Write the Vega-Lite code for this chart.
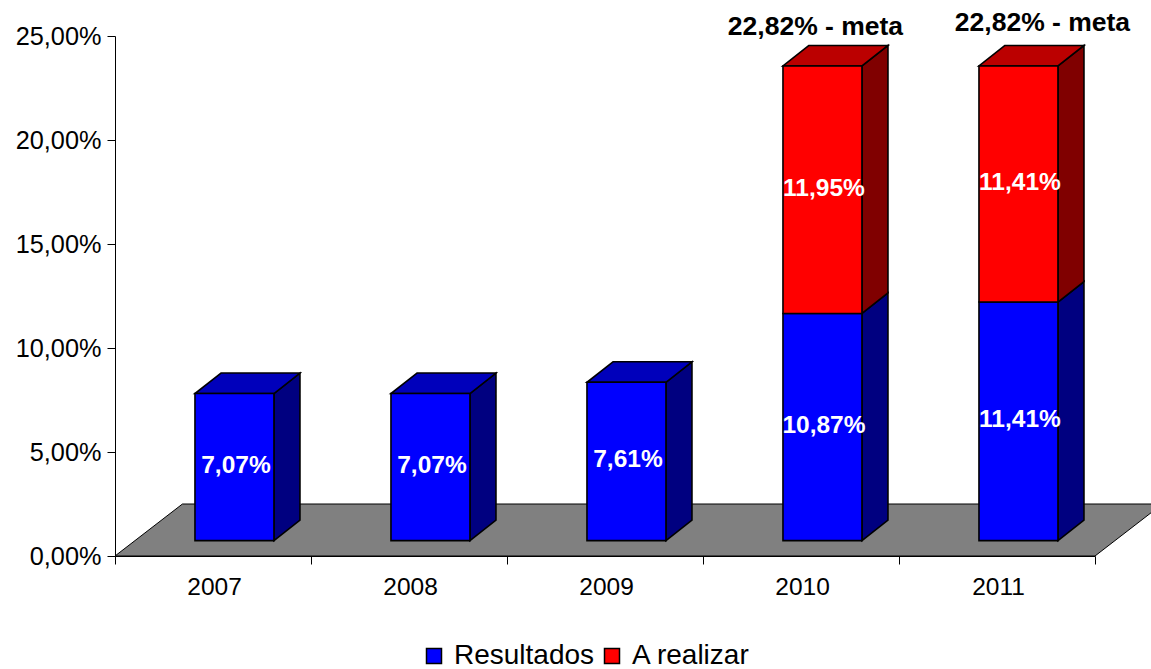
{
"$schema":"https://vega.github.io/schema/vega-lite/v6.json",
"width":980,"height":520,
"autosize":"none",
"padding":{"left":115,"top":36,"right":56,"bottom":113},
"background":"white",
"config":{"font":"Liberation Sans","view":{"stroke":null}},
"data":{"values":[
{"year":2007,"series":"Resultados","value":7.07,"label":"7,07%"},
{"year":2008,"series":"Resultados","value":7.07,"label":"7,07%"},
{"year":2009,"series":"Resultados","value":7.61,"label":"7,61%"},
{"year":2010,"series":"Resultados","value":10.92,"label":"10,87%"},
{"year":2011,"series":"Resultados","value":11.47,"label":"11,41%"},
{"year":2010,"series":"A realizar","value":11.9,"label":"11,95%"},
{"year":2011,"series":"A realizar","value":11.35,"label":"11,41%"}
]},
"transform":[
{"stack":"value","groupby":["year"],"sort":[{"field":"series","order":"descending"}],"as":["s0","s1"]},
{"calculate":"datum.year-2007+0.408","as":"xl"},
{"calculate":"datum.year-2007+0.811","as":"xr"},
{"calculate":"datum.year-2007+0.6095","as":"xc"},
{"calculate":"datum.s0+0.74","as":"lo"},
{"calculate":"datum.s1+0.74","as":"hi"},
{"calculate":"(datum.lo+datum.hi)/2","as":"mid"},
{"calculate":"datum.year+datum.series","as":"key"}
],
"layer":[
{"data":{"values":[{"plane":"floor"}]},
 "transform":[{"calculate":"[0,1]","as":"t"},{"flatten":["t"]},
  {"calculate":"datum.t*0.344","as":"fx"},{"calculate":"5+datum.t*0.344","as":"fx2"},{"calculate":"datum.t*2.5","as":"fy"}],
 "mark":{"type":"area","orient":"horizontal","fill":"#808080","stroke":"black","strokeWidth":1,"clip":false},
 "encoding":{
  "x":{"field":"fx","type":"quantitative","scale":{"domain":[0,5],"nice":false,"zero":false},
   "axis":{"title":null,"values":[0,1,2,3,4,5],"labelOffset":99,"tickSize":8,"labelPadding":11,"labelFontSize":24.5,"labelColor":"black","domainColor":"black","tickColor":"black","grid":false,"labelFlush":false,"labelOverlap":false,"labelExpr":"datum.value<5?''+(2007+datum.value):''"}},
  "x2":{"field":"fx2"},
  "y":{"field":"fy","type":"quantitative","scale":{"domain":[0,25],"nice":false,"zero":false},
   "axis":{"title":null,"values":[0,5,10,15,20,25],"tickSize":8,"labelPadding":6,"labelFontSize":25.3,"labelColor":"black","domainColor":"black","tickColor":"black","grid":false,"labelFlush":false,"labelOverlap":false,"labelExpr":"replace(format(datum.value,'.2f'),'.',',')+'%'"}}
 }},
{"transform":[{"calculate":"[0,1]","as":"t"},{"flatten":["t"]},
  {"calculate":"datum.xr+datum.t*0.1327","as":"sx"},{"calculate":"datum.lo+datum.t*0.986","as":"sy"},{"calculate":"datum.hi+datum.t*0.986","as":"sy2"}],
 "mark":{"type":"area","stroke":"black","strokeWidth":1.6},
 "encoding":{
  "x":{"field":"sx","type":"quantitative"},
  "y":{"field":"sy","type":"quantitative","stack":null},
  "y2":{"field":"sy2"},
  "detail":{"field":"key"},
  "fill":{"condition":{"test":"datum.series==='A realizar'","value":"#800000"},"value":"#000080"}
 }},
{"transform":[{"filter":"datum.year<2010||datum.series==='A realizar'"},{"calculate":"[0,1]","as":"t"},{"flatten":["t"]},
  {"calculate":"datum.xl+datum.t*0.1327","as":"tx"},{"calculate":"datum.xr+datum.t*0.1327","as":"tx2"},{"calculate":"datum.hi+datum.t*0.986","as":"ty"}],
 "mark":{"type":"area","orient":"horizontal","stroke":"black","strokeWidth":1.6},
 "encoding":{
  "x":{"field":"tx","type":"quantitative"},
  "x2":{"field":"tx2"},
  "y":{"field":"ty","type":"quantitative"},
  "detail":{"field":"key"},
  "fill":{"condition":{"test":"datum.series==='A realizar'","value":"#BB0000"},"value":"#0000BB"}
 }},
{"mark":{"type":"rect","stroke":"black","strokeWidth":1.6},
 "encoding":{
  "x":{"field":"xl","type":"quantitative"},
  "x2":{"field":"xr"},
  "y":{"field":"lo","type":"quantitative"},
  "y2":{"field":"hi"},
  "fill":{"field":"series","type":"nominal","scale":{"domain":["Resultados","A realizar"],"range":["#0000FF","#FF0000"]},
   "legend":{"title":null,"orient":"none","legendX":305,"legendY":606,"direction":"horizontal","symbolType":"square","symbolSize":225,"symbolStrokeColor":"black","symbolStrokeWidth":1.5,"labelFontSize":28,"labelColor":"black","labelOffset":6,"columnPadding":3,"padding":0,"labelLimit":400,
    "encode":{"symbols":{"update":{"stroke":{"value":"black"},"strokeWidth":{"value":1.5}}}}}}
 }},
{"mark":{"type":"text","fontWeight":"bold","fontSize":24.5,"color":"white","baseline":"middle","align":"center","dx":1.5,"dy":-1},
 "encoding":{
  "x":{"field":"xc","type":"quantitative"},
  "y":{"field":"mid","type":"quantitative"},
  "text":{"field":"label"}
 }},
{"data":{"values":[
 {"year":2010,"total":22.82,"label":"22,82% - meta"},
 {"year":2011,"total":22.82,"label":"22,82% - meta"}]},
 "transform":[{"filter":"datum.year==2010"},{"calculate":"datum.year-2007+0.6095","as":"xc"},{"calculate":"datum.total+0.74","as":"ty"}],
 "mark":{"type":"text","fontWeight":"bold","fontSize":26.5,"color":"black","baseline":"middle","align":"center","dx":-7,"dy":-39},
 "encoding":{"x":{"field":"xc","type":"quantitative"},"y":{"field":"ty","type":"quantitative"},"text":{"field":"label"}}},
{"data":{"values":[
 {"year":2010,"total":22.82,"label":"22,82% - meta"},
 {"year":2011,"total":22.82,"label":"22,82% - meta"}]},
 "transform":[{"filter":"datum.year==2011"},{"calculate":"datum.year-2007+0.6095","as":"xc"},{"calculate":"datum.total+0.74","as":"ty"}],
 "mark":{"type":"text","fontWeight":"bold","fontSize":26.5,"color":"black","baseline":"middle","align":"center","dx":24,"dy":-43},
 "encoding":{"x":{"field":"xc","type":"quantitative"},"y":{"field":"ty","type":"quantitative"},"text":{"field":"label"}}}
]
}
